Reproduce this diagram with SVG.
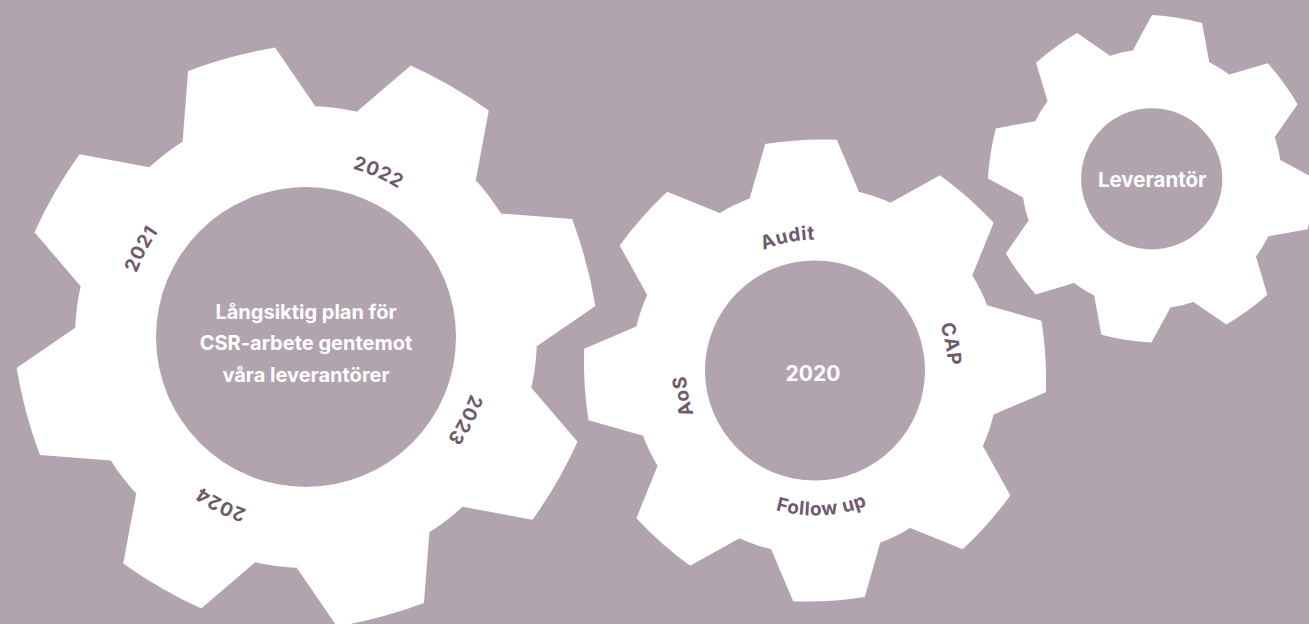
<svg xmlns="http://www.w3.org/2000/svg" xmlns:xlink="http://www.w3.org/1999/xlink" width="1309" height="624" viewBox="0 0 1309 624">
  <style>
    .bg { fill: #b1a4ae; }
    .gearfill { fill: #ffffff; }
    .hole { fill: #b1a4ae; }
    .center { font-family: Inter, "Noto Sans", "Liberation Sans", sans-serif; font-weight: 700; fill: #ffffff; text-anchor: middle; }
    .label { font-family: Inter, "Noto Sans", "Liberation Sans", sans-serif; font-weight: 700; font-size: 19px; fill: #6e5a6c; letter-spacing: 0.6px; }
  </style>
  <defs>
    <path id="tooth" d="M95.48,-29.74 L124.48,-19.49 A200,200 0 0 1 124.48,19.49 L95.48,29.74 Z"/>
    <g id="gear-shape" class="gearfill">
      <circle cx="0" cy="0" r="100"/>
      <use href="#tooth"/>
      <use href="#tooth" transform="rotate(45)"/>
      <use href="#tooth" transform="rotate(90)"/>
      <use href="#tooth" transform="rotate(135)"/>
      <use href="#tooth" transform="rotate(180)"/>
      <use href="#tooth" transform="rotate(225)"/>
      <use href="#tooth" transform="rotate(270)"/>
      <use href="#tooth" transform="rotate(315)"/>
    </g>
    <path id="p2021" d="M124.8,343.0 A181.3,181.3 0 0 1 210.2,183.1"/>
    <path id="p2022" d="M286.8,163.4 A174.7,174.7 0 0 1 446.8,233.6"/>
    <path id="p2023" d="M480.1,329.4 A174.3,174.3 0 0 1 399.7,484.0"/>
    <path id="p2024" d="M315.6,519.3 A182.5,182.5 0 0 1 152.9,436.4"/>
    <path id="pAudit" d="M719.8,280.5 A131,131 0 0 1 867.0,250.3"/>
    <path id="pCAP" d="M907.4,274.8 A133,133 0 0 1 936.5,424.6"/>
    <path id="pAoS" d="M725.4,463.3 A129,129 0 0 1 697.2,318.0"/>
    <path id="pFollow" d="M727.3,486.0 A145,145 0 0 0 913.4,477.0"/>
  </defs>

  <rect class="bg" x="0" y="0" width="1309" height="624"/>

  <g id="gear-large">
    <use href="#gear-shape" transform="translate(306,337) rotate(-105) scale(2.31)"/>
    <circle class="hole" cx="306" cy="337" r="150"/>
    <text class="center" font-size="20"><tspan x="306" y="318.7">Långsiktig plan för</tspan><tspan x="306" y="350">CSR-arbete gentemot</tspan><tspan x="306" y="381.7">våra leverantörer</tspan></text>
    <text class="label"><textPath href="#p2021" startOffset="50%" text-anchor="middle">2021</textPath></text>
    <text class="label"><textPath href="#p2022" startOffset="50%" text-anchor="middle">2022</textPath></text>
    <text class="label"><textPath href="#p2023" startOffset="50%" text-anchor="middle">2023</textPath></text>
    <text class="label"><textPath href="#p2024" startOffset="50%" text-anchor="middle">2024</textPath></text>
  </g>

  <g id="gear-middle">
    <use href="#gear-shape" transform="translate(815,370.5) rotate(-93.5) scale(1.84)"/>
    <circle class="hole" cx="815" cy="370.5" r="110"/>
    <text class="center" font-size="21" x="813" y="380.7">2020</text>
    <text class="label"><textPath href="#pAudit" startOffset="50%" text-anchor="middle">Audit</textPath></text>
    <text class="label"><textPath href="#pCAP" startOffset="50%" text-anchor="middle">CAP</textPath></text>
    <text class="label"><textPath href="#pAoS" startOffset="50%" text-anchor="middle">AoS</textPath></text>
    <text class="label"><textPath href="#pFollow" startOffset="50%" text-anchor="middle">Follow up</textPath></text>
  </g>

  <g id="gear-small">
    <use href="#gear-shape" transform="translate(1151.7,178.8) rotate(-81) scale(1.30)"/>
    <circle class="hole" cx="1151.7" cy="178.8" r="70.6"/>
    <text class="center" font-size="20.5" x="1152.2" y="187.3">Leverantör</text>
  </g>

  <g id="connectors"/>
</svg>
